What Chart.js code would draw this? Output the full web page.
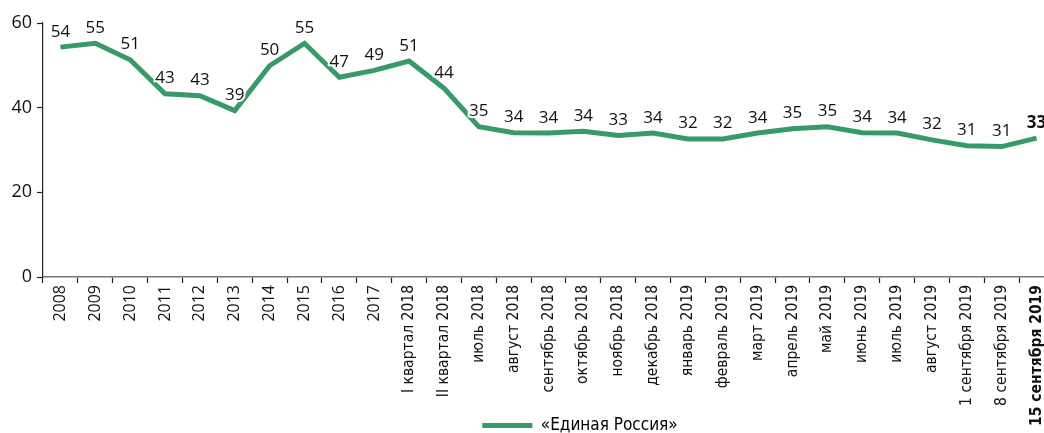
<!DOCTYPE html>
<html lang="ru">
<head>
<meta charset="utf-8">
<script src="https://cdn.jsdelivr.net/npm/chart.js@4"></script>
<style>
  html, body { margin: 0; padding: 0; background: #fff; overflow: hidden; }
  #wrap { width: 1060px; height: 433px; }
</style>
</head>
<body>
<div id="wrap"><canvas id="erChart" width="1060" height="433"></canvas></div>
<script>
// Рейтинг «Единой России», %
const categories = [
  '2008', '2009', '2010', '2011', '2012', '2013', '2014', '2015', '2016', '2017',
  'I квартал 2018', 'II квартал 2018', 'июль 2018', 'август 2018', 'сентябрь 2018',
  'октябрь 2018', 'ноябрь 2018', 'декабрь 2018', 'январь 2019', 'февраль 2019',
  'март 2019', 'апрель 2019', 'май 2019', 'июнь 2019', 'июль 2019', 'август 2019',
  '1 сентября 2019', '8 сентября 2019', '15 сентября 2019'
];
const values = [
  54.3, 55.2, 51.3, 43.3, 42.8, 39.3, 49.9, 55.2, 47.2, 48.8,
  51.0, 44.6, 35.5, 34.1, 34.0, 34.4, 33.4, 34.0, 32.6, 32.6,
  34.0, 35.0, 35.5, 34.1, 34.0, 32.4, 31.0, 30.8, 32.8
];
const shownValues = [
  54, 55, 51, 43, 43, 39, 50, 55, 47, 49,
  51, 44, 35, 34, 34, 34, 33, 34, 32, 32,
  34, 35, 35, 34, 34, 32, 31, 31, 33
];
const yTicks = [0, 20, 40, 60];
const seriesName = '«Единая Россия»';

const GREEN = '#389a68';
const NARROW = '"Liberation Sans Narrow", "DejaVu Sans Condensed", sans-serif';
const SANS = '"Open Sans", "Noto Sans", sans-serif';
const yearCount = 10;
const lastIdx = categories.length - 1;

// подписи значений над точками
const valueLabels = {
  id: 'valueLabels',
  afterDatasetsDraw(chart) {
    const ctx = chart.ctx;
    const meta = chart.getDatasetMeta(0);
    ctx.save();
    ctx.textAlign = 'center';
    ctx.textBaseline = 'alphabetic';
    meta.data.forEach((pt, i) => {
      ctx.font = (i === lastIdx ? 'bold ' : '') + '17px ' + SANS;
      const txt = String(shownValues[i]);
      ctx.lineWidth = 4;
      ctx.strokeStyle = '#fff';
      ctx.strokeText(txt, pt.x, pt.y - 10.5);
      ctx.fillStyle = '#111';
      ctx.fillText(txt, pt.x, pt.y - 10.5);
    });
    ctx.restore();
  }
};

// легенда в оригинале смещена вправо
const legendShift = {
  id: 'legendShift',
  afterLayout(chart) {
    const lg = chart.legend;
    if (!lg) return;
    lg.left += 53; lg.right += 53;
    lg.top -= 8; lg.bottom -= 8;
  }
};

new Chart(document.getElementById('erChart'), {
  type: 'line',
  data: {
    labels: categories,
    datasets: [{
      label: seriesName,
      data: values,
      borderColor: GREEN,
      backgroundColor: GREEN,
      borderWidth: 5,
      pointRadius: 0,
      tension: 0,
      borderJoinStyle: 'miter',
      clip: false
    }]
  },
  options: {
    responsive: false,
    animation: false,
    layout: { padding: { top: 23, right: 6, left: 0, bottom: -19 } },
    plugins: {
      tooltip: { enabled: false },
      legend: {
        position: 'bottom',
        labels: {
          boxWidth: 50,
          boxHeight: 5,
          padding: 0,
          color: '#111',
          font: { family: NARROW, size: 17 },
          generateLabels: (chart) => chart.data.datasets.map((ds, i) => ({
            text: ds.label,
            fillStyle: ds.borderColor,
            strokeStyle: ds.borderColor,
            lineWidth: 0,
            datasetIndex: i
          }))
        }
      }
    },
    scales: {
      x: {
        offset: true,
        grid: {
          offset: true,
          drawOnChartArea: false,
          drawTicks: true,
          tickLength: 6,
          tickColor: '#222',
          tickWidth: 1.2
        },
        border: { color: '#777', width: 1.5 },
        afterFit: (axis) => { axis.height = 148; },
        ticks: {
          autoSkip: false,
          minRotation: 90,
          maxRotation: 90,
          padding: 2,
          color: '#111',
          font: (c) => {
            const i = c.index;
            if (i < yearCount) return { family: SANS, size: 16 };
            return { family: NARROW, size: 15.5, weight: i === lastIdx ? 'bold' : 'normal' };
          }
        }
      },
      y: {
        min: 0,
        max: 60,
        afterBuildTicks: (axis) => { axis.ticks = yTicks.map(v => ({ value: v })); },
        afterFit: (axis) => { axis.width = 43; },
        grid: {
          drawOnChartArea: false,
          drawTicks: true,
          tickLength: 6,
          tickColor: '#222',
          tickWidth: 1.2
        },
        border: { color: '#222', width: 1.2 },
        ticks: {
          padding: 5,
          color: '#111',
          font: { family: SANS, size: 18 }
        }
      }
    }
  },
  plugins: [valueLabels, legendShift]
});
</script>
</body>
</html>
